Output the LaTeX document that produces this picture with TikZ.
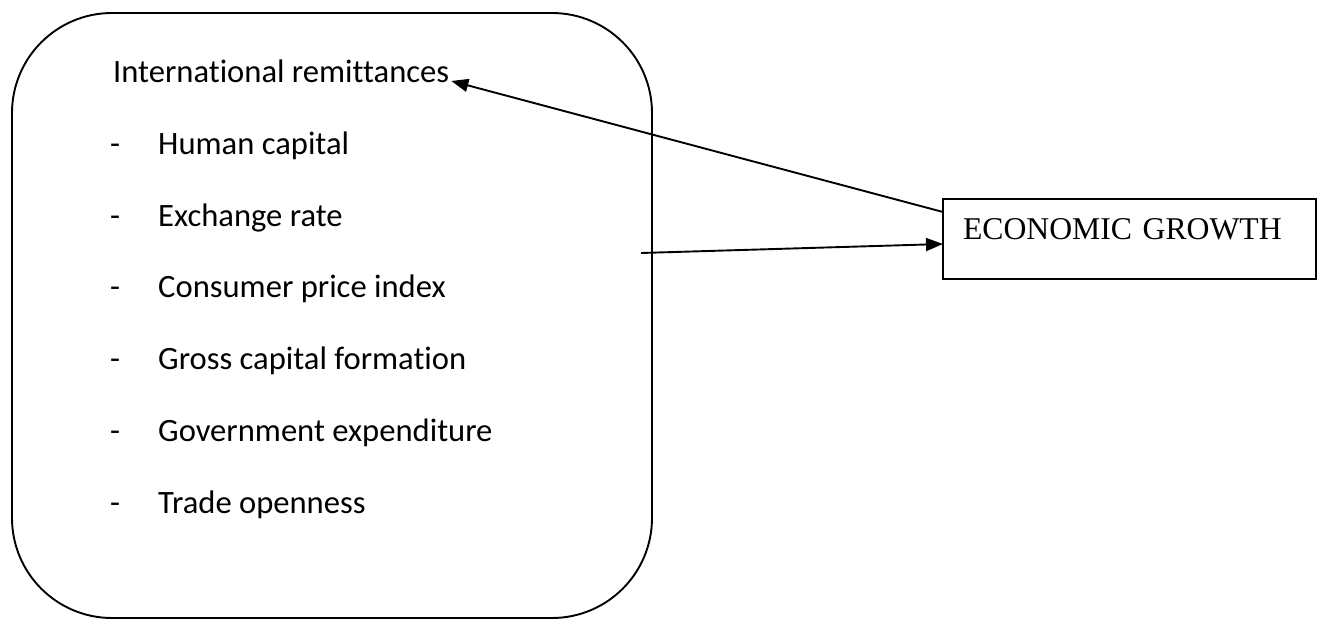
\documentclass[tikz,border=0pt]{standalone}
\usepackage{fontspec}
\setmainfont{Carlito}[Ligatures=NoCommon]
\newfontfamily\timesf{Liberation Serif}
\usetikzlibrary{arrows.meta,calc}
\begin{document}
\begin{tikzpicture}[x=1pt,y=-1pt,
  outline/.style={draw=black,line width=1.9pt},
  item/.style={anchor=base west,inner sep=0pt,font=\fontsize{32.6}{38}\selectfont},
  dashmark/.style={anchor=base west,inner sep=0pt,font=\fontsize{32.6}{38}\selectfont},
  arr/.style={draw=black,line width=1.9pt,-{Triangle[length=17pt,width=13pt]}}]
\useasboundingbox (0,0) rectangle (1320,620);
\node[outline,rounded corners=100pt,inner sep=0pt,outer sep=0pt,
      minimum width=640pt,minimum height=605pt,anchor=north west] (rb) at (12,13) {};
\node[item] (ir) at (113,83) {International remittances};
\foreach \t/\y/\n in {Human capital/155/i1,Exchange rate/227/i2,Consumer price index/298/i3,
  Gross capital formation/370/i4,Government expenditure/441/i5,Trade openness/513/i6}{
  \node[dashmark] (d\n) at (110,\y) {-};
  \node[item] (\n) at (158,\y) {\t};
}
\node[outline,anchor=north west,inner xsep=20pt,inner ysep=0pt,outer sep=0pt,
      text width=333pt,text height=41pt,text depth=39pt,align=left,
      font=\timesf\fontsize{31.7}{36}\selectfont] (eg) at (943,199) {ECONOMIC GROWTH};
\coordinate (src) at (641,253);
\draw[arr] ($(eg.north west)+(0,13)$) -- ($(ir.base east)+(2,-2)$);
\draw[arr] (src) -- ($(eg.west)+(0,5)$);
\end{tikzpicture}
\end{document}
